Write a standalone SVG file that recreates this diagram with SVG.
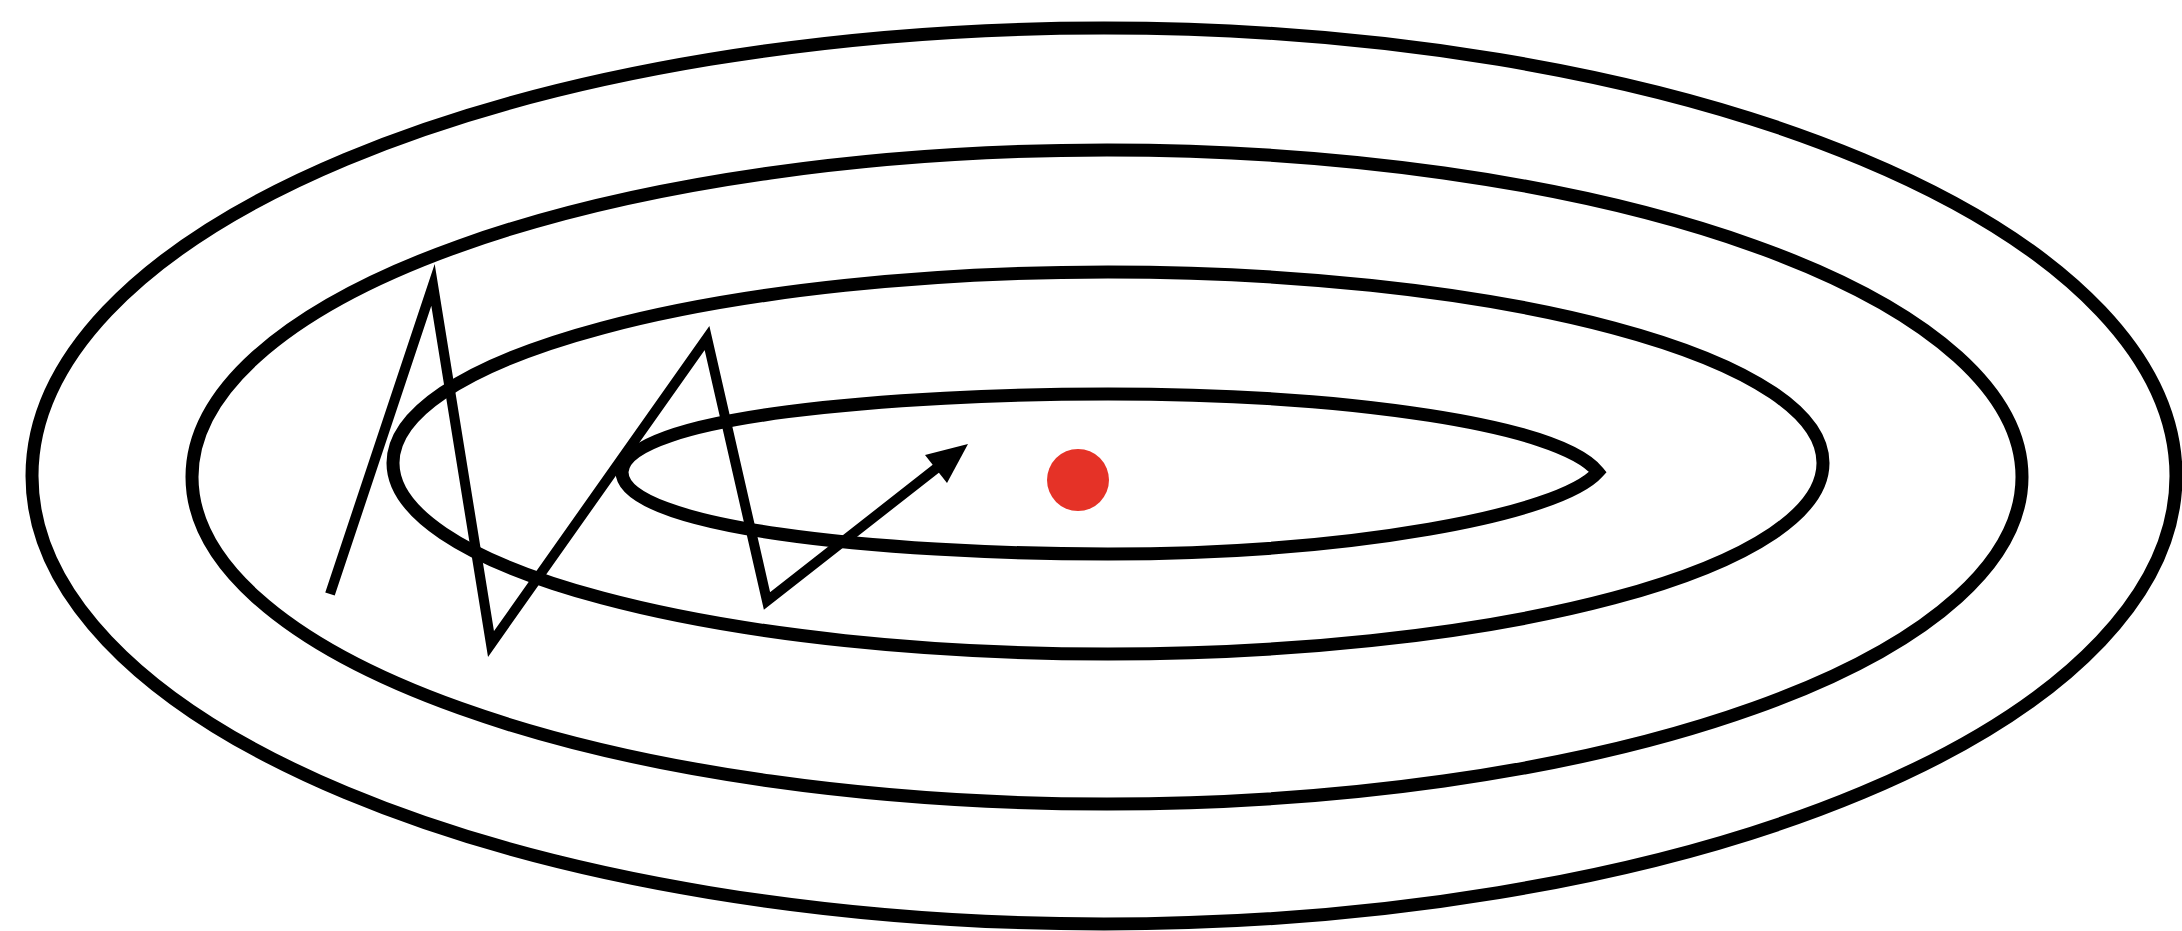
<svg xmlns="http://www.w3.org/2000/svg" width="2182" height="931" viewBox="0 0 2182 931">
<defs>
<style>
.contour{fill:none;stroke:#000;stroke-width:13}
.path{fill:none;stroke:#000;stroke-width:10;stroke-linejoin:miter;stroke-miterlimit:20}
</style>
</defs>
<rect width="2182" height="931" fill="#fff"/>
<g id="contour-outer"><ellipse class="contour" cx="1104" cy="476" rx="1072" ry="448"/></g>
<g id="contour-2"><ellipse class="contour" cx="1107" cy="477" rx="915" ry="327"/></g>
<g id="contour-3"><ellipse class="contour" cx="1108" cy="463" rx="715" ry="191"/></g>
<g id="contour-inner"><path class="contour" d="M 622 472 C 625 415, 900 394, 1108 394 C 1350 394, 1560 425, 1598 472 C 1560 515, 1350 554, 1108 554 C 880 554, 622 528, 622 472 Z"/></g>
<g id="minimum"><circle cx="1078" cy="480" r="31" fill="#e53227"/></g>
<g id="connectors">
<polyline class="path" points="330,594 433,285 491,644 707,338 767,601 938,467"/>
<polygon points="968,444 947,483 925,455" fill="#000"/>
</g>
</svg>
